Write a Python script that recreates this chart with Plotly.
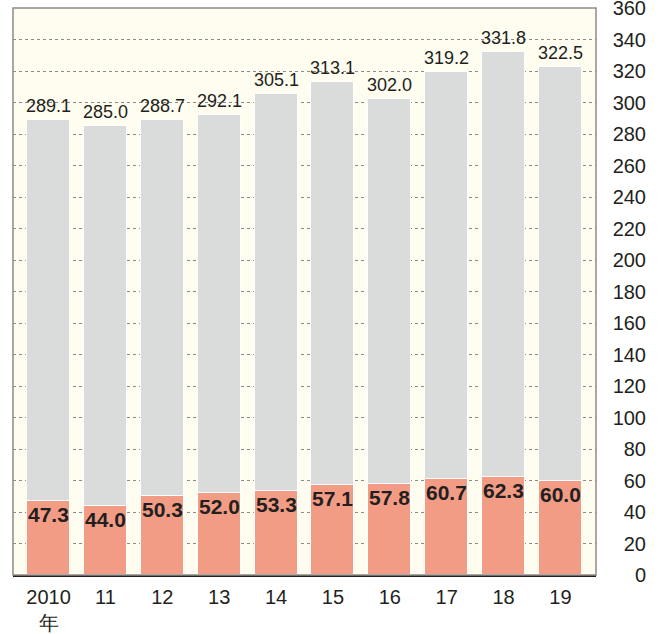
import plotly.graph_objects as go

categories = ["2010<br>年", "11", "12", "13", "14", "15", "16", "17", "18", "19"]
totals = [289.1, 285.0, 288.7, 292.1, 305.1, 313.1, 302.0, 319.2, 331.8, 322.5]
subset = [47.3, 44.0, 50.3, 52.0, 53.3, 57.1, 57.8, 60.7, 62.3, 60.0]
y_ticks = list(range(0, 361, 20))

x = list(range(len(categories)))
W, H = 672, 634
L, R, T, B = 13, 26, 8, 59
plot_w = W - L - R
dom_right = 583 / plot_w

fig = go.Figure()
fig.add_trace(go.Bar(x=x, y=totals, width=0.757, marker=dict(color="#d9dcdb", line=dict(color="#ffffff", width=1)),
                     hoverinfo="skip"))
fig.add_trace(go.Bar(x=x, y=subset, width=0.757, marker=dict(color="#f29c85", line=dict(color="#ffffff", width=1)),
                     hoverinfo="skip"))
# invisible trace to carry tick-label axis
fig.add_trace(go.Scatter(x=[0], y=[0], yaxis="y2", mode="markers", marker=dict(opacity=0), hoverinfo="skip"))

for xi, v in zip(x, totals):
    fig.add_annotation(x=xi, y=v, text=f"{v:.1f}", showarrow=False, yanchor="bottom", yshift=2,
                       font=dict(family="Liberation Sans", size=18, color="#231f20"))
for xi, v in zip(x, subset):
    fig.add_annotation(x=xi, y=v, text=f"<b>{v:.1f}</b>", showarrow=False, yanchor="top", yshift=0,
                       font=dict(family="Liberation Sans", size=21, color="#231f20"))

fig.add_shape(type="rect", xref="x domain", yref="y domain", x0=0, x1=1, y0=0, y1=1,
              line=dict(color="#8e8a86", width=1.5), layer="above")

fig.update_layout(
    width=W, height=H, margin=dict(l=L, r=R, t=T, b=B, autoexpand=False),
    paper_bgcolor="#ffffff", plot_bgcolor="#fefdf0",
    barmode="overlay", showlegend=False, bargap=0,
    font=dict(family="Liberation Sans", size=20, color="#231f20"),
    xaxis=dict(domain=[0, dom_right], range=[-0.625, 9.625], tickmode="array", tickvals=x, ticktext=categories,
               showgrid=False, zeroline=False, showline=True, linecolor="#231f20", linewidth=1.5,
               ticks="outside", ticklen=3, tickcolor="rgba(0,0,0,0)", tickfont=dict(size=20),
               automargin=False, ticklabeloverflow="allow"),
    yaxis=dict(range=[0, 360], tickvals=y_ticks, showticklabels=False, showgrid=True, automargin=False,
               gridcolor="#8a8a8a", griddash="dot", gridwidth=1, zeroline=False, showline=False),
    yaxis2=dict(range=[0, 360], tickvals=y_ticks, overlaying="y", anchor="free", position=1, side="left",
                automargin=False, showgrid=False, zeroline=False, showline=False, ticks="",
                tickfont=dict(size=20), ticklabeloverflow="allow"),
)

fig.write_html("out.html", config={"displayModeBar": False},
               post_script="document.body.style.margin='0';")
